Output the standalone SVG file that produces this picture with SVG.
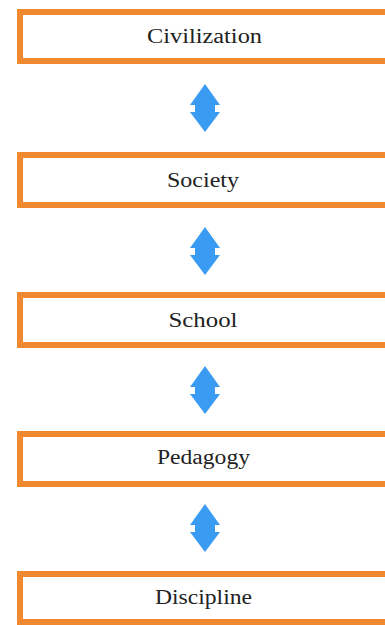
<svg xmlns="http://www.w3.org/2000/svg" width="385" height="625" viewBox="0 0 385 625">
<defs>
<style>
.box{fill:#fff;stroke:#F0882F;stroke-width:6}
.lbl{font-family:"Liberation Serif","Times New Roman",serif;font-size:20px;fill:#222;text-anchor:middle}
.arr{fill:#3A9BF2}
</style>
<path id="dbl" d="M0,0 L15,21 L10,21 L10,28 L15,28 L0,48 L-15,28 L-10,28 L-10,21 L-15,21 Z"/>
</defs>
<rect width="385" height="625" fill="#fff"/>
<g id="connectors">
<use href="#dbl" class="arr" x="205" y="84"/>
<use href="#dbl" class="arr" x="205" y="227"/>
<use href="#dbl" class="arr" x="205" y="366"/>
<use href="#dbl" class="arr" x="205" y="504"/>
</g>
<g id="civilization"><rect class="box" x="20" y="12" width="380" height="49"/><text class="lbl" x="204.5" y="43" textLength="115" lengthAdjust="spacingAndGlyphs">Civilization</text></g>
<g id="society"><rect class="box" x="20" y="155" width="380" height="50"/><text class="lbl" x="203" y="187" textLength="72" lengthAdjust="spacingAndGlyphs">Society</text></g>
<g id="school"><rect class="box" x="20" y="295" width="380" height="50"/><text class="lbl" x="203" y="327" textLength="69" lengthAdjust="spacingAndGlyphs">School</text></g>
<g id="pedagogy"><rect class="box" x="20" y="434" width="380" height="50"/><text class="lbl" x="203.5" y="464" textLength="93" lengthAdjust="spacingAndGlyphs">Pedagogy</text></g>
<g id="discipline"><rect class="box" x="20" y="574" width="380" height="48"/><text class="lbl" x="203.5" y="604" textLength="97" lengthAdjust="spacingAndGlyphs">Discipline</text></g>
</svg>
